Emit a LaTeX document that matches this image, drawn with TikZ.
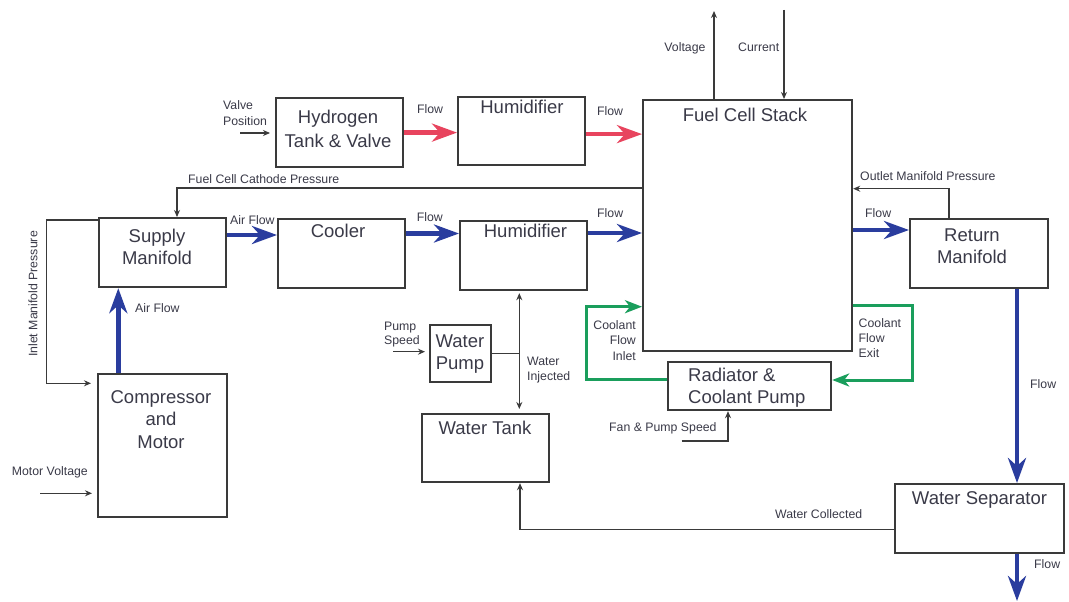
\documentclass[tikz,border=0pt]{standalone}
\usepackage{fontspec}
\setmainfont{Liberation Sans}
\usetikzlibrary{arrows.meta,calc}
\definecolor{flowblue}{HTML}{2A3D9E}
\definecolor{flowpink}{HTML}{E8445E}
\definecolor{coolgreen}{HTML}{1A9E5C}
\definecolor{boxc}{HTML}{3A3A3A}
\definecolor{txt}{HTML}{3A3A48}
\tikzset{
  box/.style={draw=boxc, line width=2.2pt, anchor=north west, inner sep=0pt},
  big/.style={font=\fontsize{18.5}{22}\selectfont, text=txt, align=center, inner sep=0pt},
  small/.style={font=\fontsize{12.3}{15}\selectfont, text=txt, inner sep=0pt},
  sig/.style={draw=boxc, line width=1.4pt, -{Stealth[length=7pt,width=6pt]}},
  plainline/.style={draw=boxc, line width=1.4pt},
  blueflow/.style={draw=flowblue, line width=4.6pt, -{Stealth[length=25pt,width=18pt,inset=8pt]}},
  pinkflow/.style={draw=flowpink, line width=4.6pt, -{Stealth[length=25pt,width=18pt,inset=8pt]}},
  coolant/.style={draw=coolgreen, line width=3pt, -{Stealth[length=17pt,width=13pt,inset=5pt]}},
}
\begin{document}
\begin{tikzpicture}[x=1pt,y=-1pt]
\fill[white] (0,0) rectangle (1069,602);
\useasboundingbox (0,0) rectangle (1069,602);

% boxes
\node[box, minimum width=127pt, minimum height=69pt] (h2) at (275,97) {};
\node[box, minimum width=127pt, minimum height=68pt] (hum1) at (457,96) {};
\node[box, minimum width=209pt, minimum height=251pt] (fcs) at (642,99) {};
\node[box, minimum width=127pt, minimum height=69pt] (sm) at (98,217) {};
\node[box, minimum width=127pt, minimum height=69pt] (cooler) at (277,218) {};
\node[box, minimum width=127pt, minimum height=69pt] (hum2) at (459,220) {};
\node[box, minimum width=138pt, minimum height=69pt] (rm) at (909,218) {};
\node[box, minimum width=129pt, minimum height=143pt] (comp) at (97,373) {};
\node[box, minimum width=61pt, minimum height=57pt] (wp) at (429,324) {};
\node[box, minimum width=127pt, minimum height=68pt] (wt) at (421,413) {};
\node[box, minimum width=163pt, minimum height=48pt] (rcp) at (667,361) {};
\node[box, minimum width=169pt, minimum height=69pt] (ws) at (894,483) {};

% box texts
\node[big] (h2t) at (338,129) {Hydrogen\\[2pt]Tank \& Valve};
\node[big, anchor=base] (hum1t) at (522,113.3) {Humidifier};
\node[big, anchor=base] (fcst) at (745,121.7) {Fuel Cell Stack};
\node[big] (smt) at (157,246.5) {Supply\\Manifold};
\node[big, anchor=base] (coolert) at (338,237.3) {Cooler};
\node[big, anchor=base] (hum2t) at (525.5,237.7) {Humidifier};
\node[big] (rmt) at (972,246.2) {Return\\Manifold};
\node[big] (compt) at (161,419.2) {Compressor\\[0.5pt]and\\[0.5pt]Motor};
\node[big] (wpt) at (460,354) {Water\\Pump};
\node[big, anchor=base] (wtt) at (485,434.3) {Water Tank};
\node[big, align=left, anchor=west] (rcpt) at (688,388) {Radiator \&\\Coolant Pump};
\node[big, anchor=base] (wst) at (979.5,504.3) {Water Separator};

% small labels
\node[small, align=left, anchor=west, font=\fontsize{12.3}{16}\selectfont] (vpt) at (223,113) {Valve\\Position};
\node[small, anchor=base] (fl1) at (430,113.7) {Flow};
\node[small, anchor=base] (fl2) at (610,115.4) {Flow};
\node[small, anchor=base east] (volt) at (705.7,51.7) {Voltage};
\node[small, anchor=base west] (curr) at (738,51.7) {Current};
\node[small, anchor=base west] (fccp) at (188,183.4) {Fuel Cell Cathode Pressure};
\node[small, anchor=base west] (ompt) at (860,180) {Outlet Manifold Pressure};
\node[small, anchor=base west] (af1) at (230,224) {Air Flow};
\node[small, anchor=base west] (fl3) at (416.7,221.7) {Flow};
\node[small, anchor=base west] (fl4) at (597,217.3) {Flow};
\node[small, anchor=base west] (fl5) at (865,217.3) {Flow};
\node[small, anchor=base west] (af2) at (135,312.7) {Air Flow};
\node[small, rotate=90] (imp) at (33,294) {Inlet Manifold Pressure};
\node[small, anchor=base west] (mvt) at (11.7,475) {Motor Voltage};
\node[small, align=left, anchor=west, font=\fontsize{12.3}{14}\selectfont] (pst) at (384,334.3) {Pump\\Speed};
\node[small, align=left, anchor=west, font=\fontsize{12.3}{14.3}\selectfont] (wit) at (527,370) {Water\\Injected};
\node[small, align=right, anchor=east, font=\fontsize{12.3}{15.3}\selectfont] (cfi) at (636,340.4) {Coolant\\Flow\\Inlet};
\node[small, align=left, anchor=west, font=\fontsize{12.3}{15}\selectfont] (cfe) at (858.5,338.3) {Coolant\\Flow\\Exit};
\node[small, anchor=base west] (fpst) at (609,431.7) {Fan \& Pump Speed};
\node[small, anchor=base west] (wct) at (775,518.3) {Water Collected};
\node[small, anchor=base west] (fl6) at (1030,388.3) {Flow};
\node[small, anchor=base west] (fl7) at (1034,568.3) {Flow};

% coordinates
\coordinate (vp) at (240,133);
\coordinate (vtop) at (714,11);
\coordinate (ctop) at (784,10);
\coordinate (cp) at ($(fcs.north west)+(0,89)$);
\coordinate (smtop) at ($(sm.north west)+(79,0)$);
\coordinate (rmtop) at ($(rm.north west)+(40,0)$);
\coordinate (omp) at ($(fcs.north east)+(0,89.7)$);
\coordinate (smleft) at ($(sm.north west)+(0,3)$);
\coordinate (cmpl) at ($(comp.north west)+(0,10.3)$);
\coordinate (mv) at (40,493.3);
\coordinate (ps) at (393,351.7);
\coordinate (wv) at ($(hum2.south west)+(60.3,0)$);
\coordinate (fps) at (681.7,441);
\coordinate (rcpb) at ($(rcp.south west)+(61,0)$);
\coordinate (wc) at ($(ws.north west)+(0,46.3)$);
\coordinate (wtb) at ($(wt.south west)+(99,0)$);
\coordinate (p2) at ($(hum1.east)+(0,3)$);
\coordinate (b1) at ($(sm.north east)+(0,18)$);
\coordinate (b2) at ($(cooler.north east)+(0,15.5)$);
\coordinate (b3) at ($(hum2.north east)+(0,13)$);
\coordinate (b4) at ($(rm.north west)+(0,12)$);
\coordinate (b5) at ($(comp.north west)+(21.3,0)$);
\coordinate (rmout) at ($(rm.south west)+(108,0)$);
\coordinate (wsout) at ($(ws.south west)+(123,0)$);
\coordinate (flowout) at (1017,601);
\coordinate (ci) at ($(rcp.north west)+(0,18)$);
\coordinate (cin) at ($(fcs.north west)+(0,207.7)$);
\coordinate (cout) at ($(fcs.north east)+(0,206)$);
\coordinate (cex) at ($(rcp.north east)+(0,19)$);

% hydrogen flows
\draw[pinkflow] (h2.east) -- (h2.east -| hum1.west);
\draw[pinkflow] (p2) -- (p2 -| fcs.west);

% air flows
\draw[blueflow] (b1) -- (b1 -| cooler.west);
\draw[blueflow] (b2) -- (b2 -| hum2.west);
\draw[blueflow] (b3) -- (b3 -| fcs.west);
\draw[blueflow] (b4 -| fcs.east) -- (b4);
\draw[blueflow] (b5) -- (b5 |- sm.south);
\draw[blueflow] (rmout) -- (rmout |- ws.north);
\draw[blueflow] (wsout) -- (flowout);

% coolant loop
\draw[coolant] (ci) -- ++(-81,0) |- (cin);
\draw[coolant] (cout) -- ++(59,0) |- (cex);

% signals
\draw[sig, shorten >=5pt] (vp) -- (vp -| h2.west);
\draw[sig] (vtop |- fcs.north) -- (vtop);
\draw[sig] (ctop) -- (ctop |- fcs.north);
\draw[sig] (cp) -| (smtop);
\draw[sig] (rmtop) |- (omp);
\draw[sig, shorten >=6pt] (smleft) -- ++(-51.3,0) |- (cmpl);
\draw[sig, shorten >=5pt] (mv) -- (mv -| comp.west);
\draw[sig, shorten >=4pt] (ps) -- (ps -| wp.west);
\draw[plainline] (wp.east) -- (wp.east -| wv);
\draw[sig, {Stealth[length=7pt,width=6pt]}-{Stealth[length=7pt,width=6pt]}, shorten <=2pt, shorten >=4pt] (wv) -- (wv |- wt.north);
\draw[sig] (fps) -| (rcpb);
\draw[sig] (wc) -| (wtb);
\end{tikzpicture}
\end{document}
